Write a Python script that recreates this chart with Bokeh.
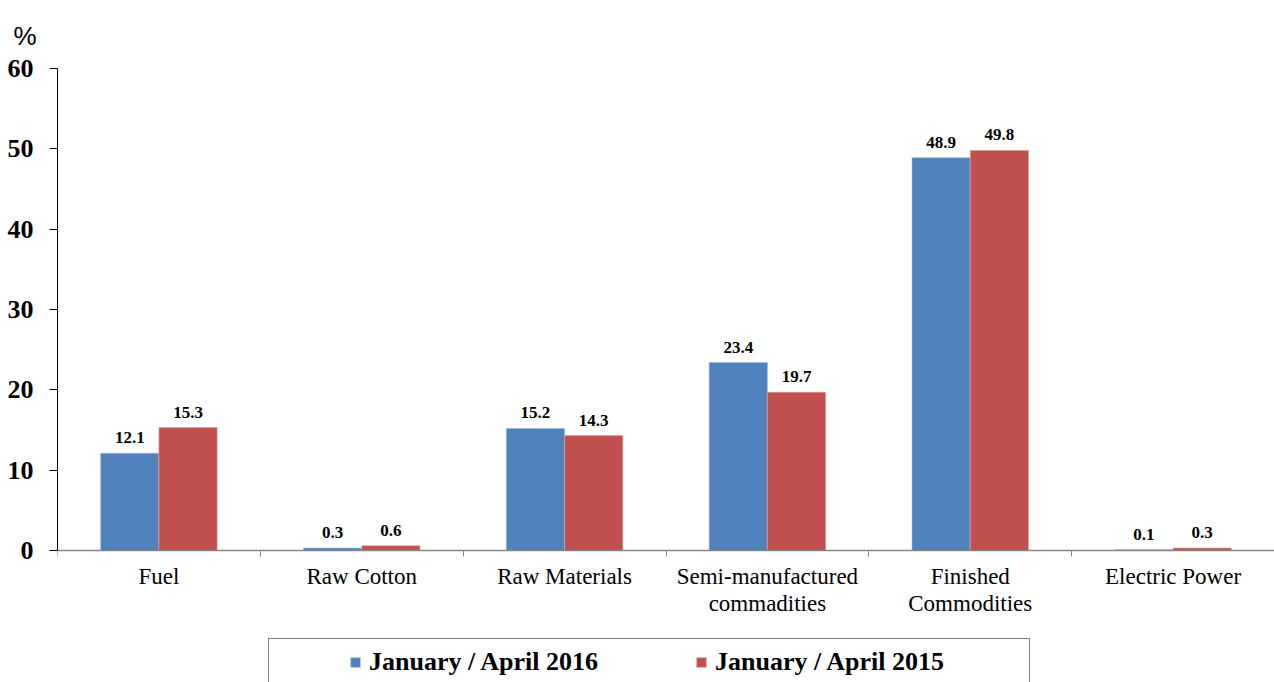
from bokeh.plotting import figure
from bokeh.models import (ColumnDataSource, LabelSet, Legend, LegendItem, LinearAxis,
                          CategoricalAxis, FixedTicker, Range1d, Title)
from bokeh.transform import dodge
from bokeh.embed import file_html
from bokeh.resources import INLINE

categories = ["Fuel", "Raw Cotton", "Raw Materials", "Semi-manufactured\ncommadities",
              "Finished\nCommodities", "Electric Power"]
series_names = ["January / April 2016", "January / April 2015"]
values_2016 = [12.1, 0.3, 15.2, 23.4, 48.9, 0.1]
values_2015 = [15.3, 0.6, 14.3, 19.7, 49.8, 0.3]
y_ticks = [0, 10, 20, 30, 40, 50, 60]
colors = ["#4F81BD", "#C0504D"]

SERIF = "Liberation Serif"

src = ColumnDataSource(dict(
    cat=categories,
    v16=values_2016,
    v15=values_2015,
    t16=[f"{v:.1f}" for v in values_2016],
    t15=[f"{v:.1f}" for v in values_2015],
))

# frame extends to the bottom of the canvas; axes are pinned at y = 0
PX_PER_UNIT = 482 / 60.0
Y_MIN = 60 - 614 / PX_PER_UNIT

p = figure(x_range=categories, y_range=Range1d(Y_MIN, 60),
           frame_width=1217, frame_height=614,
           min_border_left=57, min_border_right=0, min_border_top=68, min_border_bottom=0,
           output_backend="svg", toolbar_location=None,
           x_axis_location=None, y_axis_location=None,
           background_fill_color="white", border_fill_color="white")
p.outline_line_color = None
p.xgrid.visible = False
p.ygrid.visible = False

bw = 0.287
r16 = p.vbar(x=dodge("cat", -0.1436, range=p.x_range), top="v16", bottom=0, width=bw,
             source=src, fill_color=colors[0], line_color="#9DB8DA", line_width=0.6)
r15 = p.vbar(x=dodge("cat", 0.1436, range=p.x_range), top="v15", bottom=0, width=bw,
             source=src, fill_color=colors[1], line_color="#E0A09E", line_width=0.6)

for col, txt, off in (("v16", "t16", -0.1436), ("v15", "t15", 0.1436)):
    p.add_layout(LabelSet(x=dodge("cat", off, range=p.x_range), y=col, text=txt, source=src,
                          text_align="center", text_baseline="alphabetic", y_offset=10,
                          text_font=SERIF, text_font_style="bold", text_font_size="17px",
                          text_color="black"))

# "%" unit title
p.add_layout(Title(text="%", align="left", vertical_align="bottom", offset=-44, standoff=35,
                   text_font="Liberation Sans", text_font_size="26px",
                   text_font_style="normal", text_color="black"), "above")

# y axis (line only from 0 to 60)
yax = LinearAxis(ticker=FixedTicker(ticks=y_ticks), bounds=(0, 60))
yax.axis_line_color = "black"
yax.axis_line_width = 1
yax.major_tick_line_color = "black"
yax.major_tick_out = 8
yax.major_tick_in = 0
yax.minor_tick_line_color = None
yax.major_label_text_font = SERIF
yax.major_label_text_font_style = "bold"
yax.major_label_text_font_size = "26px"
yax.major_label_text_color = "black"
yax.major_label_standoff = 16
p.add_layout(yax, "left")

# boundary ticks axis at y = 0, ticks between categories
bax = LinearAxis(ticker=FixedTicker(ticks=list(range(len(categories) + 1))), fixed_location=0)
bax.axis_line_color = "#868686"
bax.axis_line_width = 1.3
bax.major_tick_line_color = "#868686"
bax.major_tick_out = 6
bax.major_tick_in = 0
bax.minor_tick_line_color = None
bax.major_label_text_font_size = "0px"
bax.major_label_standoff = 0
p.add_layout(bax, "below")

# category labels at y = 0
cax = CategoricalAxis(fixed_location=0)
cax.axis_line_color = None
cax.major_tick_line_color = None
cax.minor_tick_line_color = None
cax.major_tick_out = 0
cax.major_tick_in = 0
cax.major_label_text_font = SERIF
cax.major_label_text_font_size = "23px"
cax.major_label_text_line_height = 1.1
cax.major_label_text_color = "black"
cax.major_label_standoff = 13
p.add_layout(cax, "below")

legend = Legend(items=[LegendItem(label=series_names[0], renderers=[r16]),
                       LegendItem(label=series_names[1], renderers=[r15])],
                location=(211, -4), orientation="horizontal",
                title=" ", title_location="left", title_text_font_size="1px",
                title_standoff=71,
                padding=8, margin=0, spacing=20, label_standoff=8,
                glyph_width=12, glyph_height=12, label_width=306,
                border_line_color="black", border_line_width=1,
                background_fill_color="white", background_fill_alpha=1,
                label_text_font=SERIF, label_text_font_style="bold",
                label_text_font_size="26px", label_text_color="black")
p.add_layout(legend, "center")

open("out.html", "w").write(file_html(p, INLINE))
